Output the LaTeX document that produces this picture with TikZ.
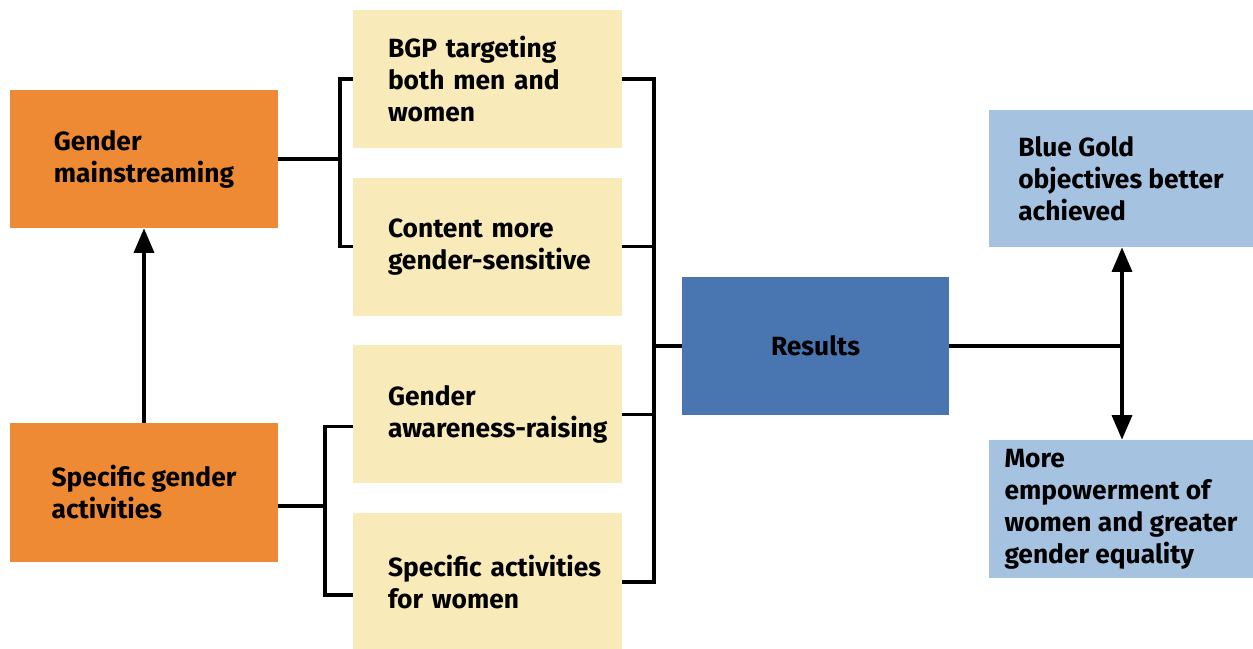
\documentclass[tikz,border=0pt]{standalone}
\usepackage{fontspec}
\setmainfont{Fira Sans}
\usepackage{tikz}
\usetikzlibrary{arrows.meta,positioning}
\definecolor{naranja}{RGB}{238,138,51}
\definecolor{amarillo}{RGB}{248,234,185}
\definecolor{azul}{RGB}{73,118,176}
\definecolor{celeste}{RGB}{165,195,225}
\tikzset{
    bloque/.style={rectangle,draw=none,align=left,inner sep=0pt,
        font=\fontsize{15}{18.2}\selectfont\bfseries,minimum height=2.76cm},
    actividad/.style={bloque,fill=naranja,minimum width=5.36cm},
    canal/.style={bloque,fill=amarillo,minimum width=5.38cm,text width=5.2cm,
        execute at begin node={\leftskip=0.61cm}},
    resultado/.style={bloque,fill=azul,align=center,minimum width=5.34cm},
    objetivo/.style={bloque,fill=celeste,minimum width=5.28cm},
    linea/.style={draw,line width=1.9pt},
    flecha/.style={linea,-{Triangle[length=4.9mm,width=4mm]}},
    flechas/.style={linea,{Triangle[length=4.9mm,width=4mm]}-{Triangle[length=4.9mm,width=4mm]}},
}
\begin{document}
\begin{tikzpicture}[
    node distance=0.58cm,
]
    \useasboundingbox (0,0) rectangle (25.06,-12.96);
    \node [actividad] (gm) at (2.88,-3.18) {Gender\\mainstreaming};
    \node [actividad,minimum height=2.78cm] (sga) at (2.88,-9.85) {Specific gender\\activities};
    \node [canal] (y1) at (9.75,-1.58) {BGP targeting\\both men and\\women};
    \node [canal,below=of y1] (y2) {Content more\\gender-sensitive};
    \node [canal,below=of y2] (y3) {Gender\\awareness-raising};
    \node [canal,below=of y3] (y4) {Specific activities\\for women};
    \node [resultado] (res) at (16.31,-6.92) {Results};
    \node [objetivo,minimum height=2.74cm] (bg) at (22.42,-3.57) {Blue Gold\\objectives better\\achieved};
    \node [objetivo] (emp) at (22.42,-10.18) {More\\empowerment of\\women and greater\\gender equality};
    \coordinate (b1) at (6.8,-3.18);
    \coordinate (b2) at (6.5,-10.12);
    \coordinate (b3) at (13.08,-6.92);
    \coordinate (b4) at (22.44,-6.92);
    \path [flecha] (sga) -- (gm);
    \path [linea] (gm.east) -- (b1);
    \path [linea] (y1.west) -| (b1) |- (y2.west);
    \path [linea] (sga.east |- b2) -- (b2);
    \path [linea] ([yshift=-0.24cm]y3.west) -| (b2) |- ([yshift=-0.26cm]y4.west);
    \path [linea] (y1.east) -| (b3) |- (y4.east);
    \path [linea] (y2.east) -- (y2.east -| b3);
    \path [linea] (y3.east) -- (y3.east -| b3);
    \path [linea] (b3) -- (res.west);
    \path [linea] (res.east) -- (b4);
    \path [flechas] (b4 |- bg.south) -- (b4 |- emp.north);
\end{tikzpicture}
\end{document}
